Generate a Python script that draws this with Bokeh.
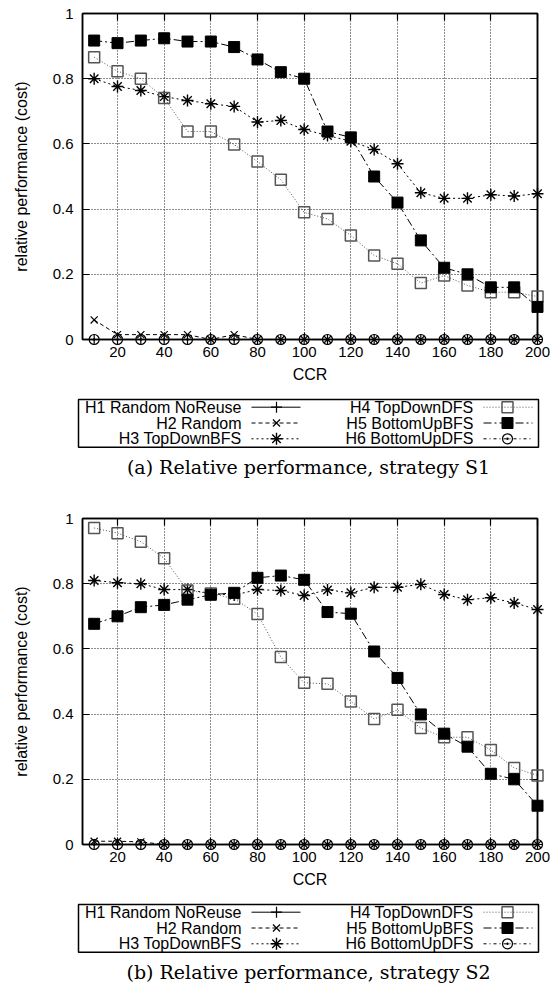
from bokeh.plotting import figure
from bokeh.layouts import column
from bokeh.models import Range1d, FixedTicker, LinearAxis
from bokeh.embed import file_html
from bokeh.resources import INLINE
from bokeh.core.properties import value

# ---------------- data ----------------
ccr = [10, 20, 30, 40, 50, 60, 70, 80, 90, 100,
       110, 120, 130, 140, 150, 160, 170, 180, 190, 200]

names = ["H1 Random NoReuse", "H2 Random", "H3 TopDownBFS",
         "H4 TopDownDFS", "H5 BottomUpBFS", "H6 BottomUpDFS"]

# strategy S1
s1_h1 = [0.0] * 20
s1_h2 = [0.06, 0.015, 0.015, 0.015, 0.015, 0.0, 0.015, 0.0, 0.0, 0.0,
         0.0, 0.0, 0.0, 0.0, 0.0, 0.0, 0.0, 0.0, 0.0, 0.0]
s1_h3 = [0.80, 0.776, 0.764, 0.745, 0.733, 0.723, 0.715, 0.667, 0.672, 0.644,
         0.626, 0.608, 0.583, 0.539, 0.45, 0.433, 0.433, 0.444, 0.44, 0.447]
s1_h4 = [0.866, 0.823, 0.80, 0.741, 0.638, 0.638, 0.598, 0.546, 0.49, 0.39,
         0.37, 0.319, 0.258, 0.232, 0.173, 0.196, 0.166, 0.145, 0.145, 0.132]
s1_h5 = [0.917, 0.909, 0.917, 0.924, 0.914, 0.914, 0.897, 0.859, 0.82, 0.80,
         0.638, 0.62, 0.50, 0.42, 0.304, 0.22, 0.20, 0.16, 0.16, 0.10]
s1_h6 = [0.0] * 20

# strategy S2
s2_h1 = [0.0] * 20
s2_h2 = [0.01, 0.01, 0.008, 0.0, 0.0, 0.0, 0.0, 0.0, 0.0, 0.0,
         0.0, 0.0, 0.0, 0.0, 0.0, 0.0, 0.0, 0.0, 0.0, 0.0]
s2_h3 = [0.81, 0.803, 0.80, 0.782, 0.782, 0.77, 0.765, 0.782, 0.779, 0.764,
         0.781, 0.772, 0.789, 0.789, 0.798, 0.767, 0.751, 0.757, 0.741, 0.721]
s2_h4 = [0.971, 0.955, 0.929, 0.878, 0.779, 0.77, 0.754, 0.707, 0.575, 0.496,
         0.493, 0.439, 0.385, 0.413, 0.357, 0.329, 0.329, 0.29, 0.235, 0.212]
s2_h5 = [0.677, 0.70, 0.728, 0.735, 0.751, 0.766, 0.772, 0.818, 0.825, 0.812,
         0.713, 0.708, 0.592, 0.511, 0.399, 0.34, 0.30, 0.217, 0.20, 0.119]
s2_h6 = [0.0] * 20

x_ticks = [20, 40, 60, 80, 100, 120, 140, 160, 180, 200]
y_ticks = [0, 0.2, 0.4, 0.6, 0.8, 1]
y_tick_labels = ["0", "0.2", "0.4", "0.6", "0.8", "1"]

captions = ["(a) Relative performance, strategy S1",
            "(b) Relative performance, strategy S2"]

# ---------------- styles ----------------
STYLES = [
    dict(marker="cross", color="black", dash="solid", size=11, fill=None, lw=1.2),
    dict(marker="x", color="black", dash="4 3", size=10, fill=None, lw=1.2),
    dict(marker="asterisk", color="black", dash="2 3", size=12, fill=None, lw=1.4),
    dict(marker="square", color="#555555", dash="1 2", size=11, fill=None, lw=1.5),
    dict(marker="square", color="black", dash="8 3 2 3", size=11, fill="black", lw=1.0),
    dict(marker="circle_dot", color="black", dash="3 3 1 3", size=10, fill=None, lw=1.2),
]

SANS = "Liberation Sans"
LEFT, RIGHT = 82, 13          # frame borders (px) shared by every figure


def panel(series):
    p = figure(width=550, height=392, x_range=Range1d(5, 200), y_range=Range1d(0, 1),
               output_backend="svg", toolbar_location=None,
               min_border_left=LEFT, min_border_right=RIGHT, min_border_top=13,
               min_border_bottom=53,
               x_axis_label="CCR", y_axis_label="relative performance (cost)")
    p.outline_line_color = "black"
    p.outline_line_width = 1.5
    p.background_fill_color = "white"
    p.border_fill_color = "white"

    p.xaxis.ticker = FixedTicker(ticks=x_ticks)
    p.yaxis.ticker = FixedTicker(ticks=y_ticks)
    p.yaxis.major_label_overrides = dict(zip(y_ticks, y_tick_labels))
    for ax in (p.xaxis[0], p.yaxis[0]):
        ax.major_tick_in = 7
        ax.major_tick_out = 0
        ax.minor_tick_line_color = None
        ax.axis_line_width = 1.5
        ax.major_tick_line_width = 1.2
        ax.major_label_text_font = SANS
        ax.major_label_text_font_size = "15px"
        ax.major_label_text_color = "black"
        ax.axis_label_text_font = SANS
        ax.axis_label_text_font_size = "16px"
        ax.axis_label_text_font_style = "normal"
        ax.axis_label_text_color = "black"
    p.xaxis.major_label_standoff = 7
    p.xaxis.axis_label_standoff = 6
    p.yaxis.major_label_standoff = 9
    p.yaxis.axis_label_standoff = 20

    right = LinearAxis(ticker=FixedTicker(ticks=y_ticks),
                       major_label_overrides={t: "" for t in y_ticks},
                       major_tick_in=7, major_tick_out=0, major_label_standoff=0,
                       minor_tick_line_color=None, axis_line_width=1.5,
                       major_tick_line_width=1.2)
    p.add_layout(right, "right")
    top = LinearAxis(ticker=FixedTicker(ticks=x_ticks),
                     major_label_overrides={t: "" for t in x_ticks},
                     major_tick_in=7, major_tick_out=0, major_label_standoff=0,
                     minor_tick_line_color=None, axis_line_width=1.5,
                     major_tick_line_width=1.2)
    p.add_layout(top, "above")

    p.xgrid.ticker = FixedTicker(ticks=x_ticks)
    p.ygrid.ticker = FixedTicker(ticks=y_ticks)
    for g in (p.xgrid[0], p.ygrid[0]):
        g.grid_line_color = "black"
        g.grid_line_dash = "1 2"
        g.grid_line_width = 1
        g.grid_line_alpha = 0.9

    for vals, st in zip(series, STYLES):
        p.line(ccr, vals, line_color=st["color"], line_width=1,
               line_dash=st["dash"], level="overlay")
        p.scatter(ccr, vals, marker=st["marker"], size=st["size"],
                  line_color=st["color"], fill_color=st["fill"],
                  line_width=st["lw"], level="overlay")
    return p


def legend_fig(height, caption):
    # frame spans the same pixels as the panels; x data units = page pixels
    q = figure(width=550, height=height, x_range=Range1d(LEFT, 550 - RIGHT),
               y_range=Range1d(height, 0), output_backend="svg",
               toolbar_location=None, min_border=0,
               min_border_left=LEFT, min_border_right=RIGHT,
               min_border_top=0, min_border_bottom=0,
               x_axis_location=None, y_axis_location=None)
    q.grid.visible = False
    q.outline_line_color = None
    q.background_fill_color = "white"
    q.border_fill_color = "white"

    q.quad(left=[78], right=[538], top=[7], bottom=[54.7],
           fill_color=None, line_color="black", line_width=1.5, level="overlay")

    rows = [14.7, 30.5, 46.3]
    text_right = [241, 473]
    seg_left = [251, 483]
    seg_right = [300, 532]
    mark_x = [276, 507]
    for i, (name, st) in enumerate(zip(names, STYLES)):
        c, r = divmod(i, 3)
        y = rows[r]
        q.text(x=[text_right[c]], y=[y], text=[name], text_align="right",
               text_baseline="middle", text_font=value(SANS),
               text_font_size="16px", text_color="black", level="overlay")
        q.segment(x0=[seg_left[c]], y0=[y], x1=[seg_right[c]], y1=[y],
                  line_color=st["color"], line_width=1, line_dash=st["dash"],
                  level="overlay")
        q.scatter(x=[mark_x[c]], y=[y], marker=st["marker"], size=st["size"],
                  line_color=st["color"], fill_color=st["fill"],
                  line_width=st["lw"], level="overlay")

    q.text(x=[308], y=[74.7], text=[caption], text_align="center",
           text_baseline="middle", text_font=value("DejaVu Serif"),
           text_font_size="19px", text_color="black", level="overlay")
    return q


pa = panel([s1_h1, s1_h2, s1_h3, s1_h4, s1_h5, s1_h6])
la = legend_fig(113, captions[0])
pb = panel([s2_h1, s2_h2, s2_h3, s2_h4, s2_h5, s2_h6])
lb = legend_fig(89, captions[1])

layout = column(pa, la, pb, lb, spacing=0)

open("out.html", "w").write(file_html(layout, INLINE))
